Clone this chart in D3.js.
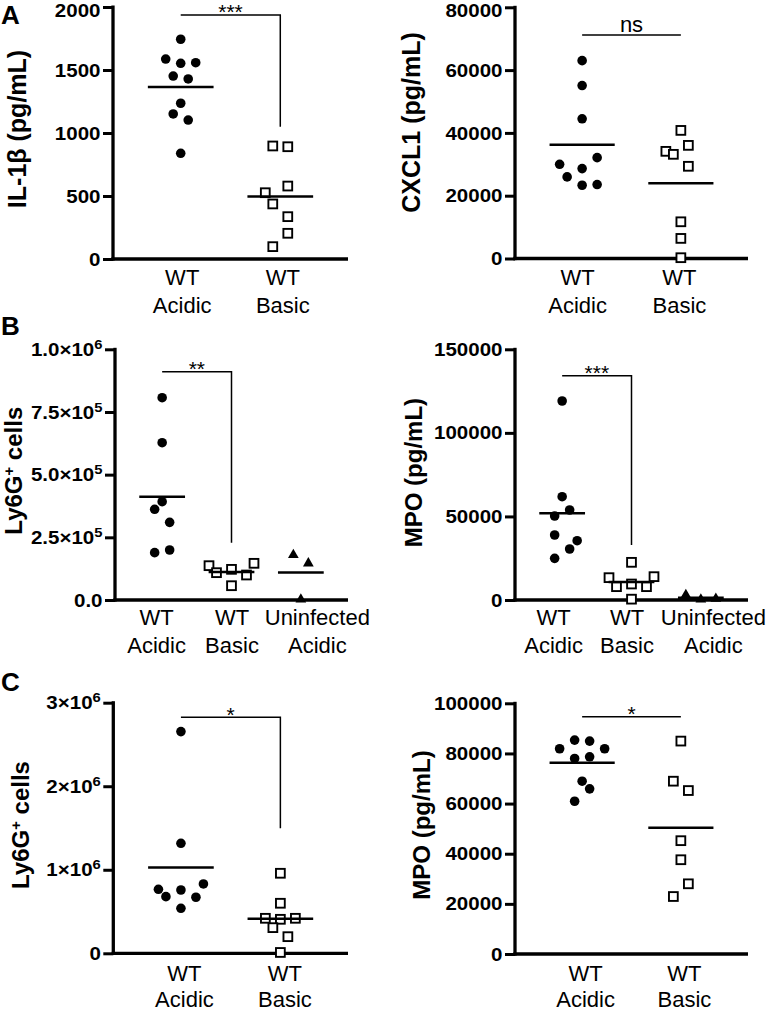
<!DOCTYPE html>
<html><head><meta charset="utf-8">
<script src="https://cdn.jsdelivr.net/npm/d3@7"></script>
<style>
body{margin:0;background:#fff}
svg{display:block}
text{font-family:"Liberation Sans",Arial,Helvetica,sans-serif;fill:#000}
</style>
</head><body>
<svg id="chart" width="771" height="1012"></svg>
<script>
// ---------------- DATA ----------------
const catsTwo = ["WT\nAcidic", "WT\nBasic"];
const catsThree = ["WT\nAcidic", "WT\nBasic", "Uninfected\nAcidic"];

// Panel A (left): IL-1β
const il1bAcidic = [1744, 1587, 1558, 1553, 1452, 1429, 1236, 1151, 1103, 839];
const il1bAcidicSlot = [0, -2, 2, 0, -1, 1, 0, -1, 1, 0];
const il1bBasic = [897, 891, 579, 526, 437, 336, 204, 98];
const il1bBasicSlot = [-1, 1, 1, -2, -1, 1, 1, -1];
const il1bTicks = [0, 500, 1000, 1500, 2000];
const il1bTickLabels = ["0", "500", "1000", "1500", "2000"];

// Panel A (right): CXCL1
const cxcl1Acidic = [63016, 55079, 44500, 32120, 30000, 28630, 25980, 23550, 23330];
const cxcl1AcidicSlot = [0, 0, 0, 2, -3, 0, -2, 2, 0];
const cxcl1Basic = [40794, 36030, 34127, 33175, 29365, 11690, 6400, 254];
const cxcl1BasicSlot = [0, 1, -2, -1, 1, 0, 0, 0];
const cxcl1Ticks = [0, 20000, 40000, 60000, 80000];
const cxcl1TickLabels = ["0", "20000", "40000", "60000", "80000"];

// Panel B (left): Ly6G+ cells
const ly6gBAcidic = [807000, 627500, 392200, 361700, 309800, 199400, 188800];
const ly6gBAcidicSlot = [0, 0, 0, -1, 1, 1, -1];
const ly6gBBasic = [146300, 136900, 122300, 109000, 99700, 57000];
const ly6gBBasicSlot = [3, -3, 0, -2, 2, 0];
const ly6gBUninf = [179500, 146300, 2000];
const ly6gBUninfSlot = [-1, 1, 0];
const ly6gBTicks = [0, 250000, 500000, 750000, 1000000];
const ly6gBTickLabels = ["0.0", "2.5×10^5", "5.0×10^5", "7.5×10^5", "1.0×10^6"];

// Panel B (right): MPO
const mpoBAcidic = [119070, 61810, 53850, 50260, 38890, 35490, 30510, 24930];
const mpoBAcidicSlot = [0, 0, 1, -1, -1, 2, 1, -1];
const mpoBBasic = [22540, 13960, 13360, 9570, 7980, 7980, 500];
const mpoBBasicSlot = [0, 3, -3, 0, -2, 2, 0];
const mpoBUninf = [3000, 300, 800];
const mpoBUninfSlot = [-2, 0, 2];
const mpoBTicks = [0, 50000, 100000, 150000];
const mpoBTickLabels = ["0", "50000", "100000", "150000"];

// Panel C (left): Ly6G+ cells
const ly6gCAcidic = [2654000, 1317000, 830000, 766000, 758000, 678000, 671000, 539000];
const ly6gCAcidicSlot = [0, 0, 3, -3, 0, -2, 2, 0];
const ly6gCBasic = [958000, 599000, 419000, 407000, 419000, 307000, 199000, 10000];
const ly6gCBasicSlot = [0, 0, -2, 0, 2, -1, 1, 0];
const ly6gCTicks = [0, 1000000, 2000000, 3000000];
const ly6gCTickLabels = ["0", "1×10^6", "2×10^6", "3×10^6"];

// Panel C (right): MPO
const mpoCAcidic = [85330, 84930, 81870, 81870, 78670, 78000, 68930, 65870, 60930];
const mpoCAcidicSlot = [-1, 1, -3, 3, 1, -1, 0, 1, -1];
const mpoCBasic = [84930, 68930, 65200, 45200, 37600, 28000, 22930];
const mpoCBasicSlot = [0, -1, 1, 0, 0, 1, -1];
const mpoCTicks = [0, 20000, 40000, 60000, 80000, 100000];
const mpoCTickLabels = ["0", "20000", "40000", "60000", "80000", "100000"];

// Significance brackets (y and drop in data units)
const sigA1 = {from: 0, to: 1, y: 1937, drop: 1050, label: "***"};
const sigA2 = {from: 0, to: 1, y: 71175, drop: null, label: "ns"};
const sigB1 = {from: 0, to: 1, y: 910700, drop: 228600, label: "**"};
const sigB2 = {from: 0, to: 1, y: 134200, drop: 32900, label: "***"};
const sigC1 = {from: 0, to: 1, y: 2826000, drop: 1497000, label: "*"};
const sigC2 = {from: 0, to: 1, y: 94680, drop: null, label: "*"};

// ---------------- LAYOUT ----------------
const svg = d3.select("#chart");
svg.append("rect").attr("width", 771).attr("height", 1012).attr("fill", "#fff");

const panels = [
  {left: 113, right: 348, top: 7, bottom: 259, max: 2000, ticks: il1bTicks, tickLabels: il1bTickLabels,
   ylabel: [["IL-1β (pg/mL)"]], ylx: 25.5, yly: 129, yls: 25, cats: catsTwo, labOff: [1, 2], labDy: 26, labGap: 28,
   series: [[il1bAcidic, il1bAcidicSlot, "circle"], [il1bBasic, il1bBasicSlot, "square"]], sig: sigA1},
  {left: 515, right: 748, top: 7.3, bottom: 258.5, max: 80000, ticks: cxcl1Ticks, tickLabels: cxcl1TickLabels,
   ylabel: [["CXCL1 (pg/mL)"]], ylx: 420, yly: 122.5, yls: 25, cats: catsTwo, labOff: [-5, -2], labDy: 26, labGap: 28,
   series: [[cxcl1Acidic, cxcl1AcidicSlot, "circle"], [cxcl1Basic, cxcl1BasicSlot, "square"]], sig: sigA2},
  {left: 115, right: 348, top: 349.3, bottom: 600, max: 1000000, ticks: ly6gBTicks, tickLabels: ly6gBTickLabels,
   ylabel: [["Ly6G"], ["+", "sup"], [" cells"]], ylx: 22, yly: 470.7, yls: 24, cats: catsThree, labOff: [-6, 0, 16], labDy: 25, labGap: 28,
   series: [[ly6gBAcidic, ly6gBAcidicSlot, "circle"], [ly6gBBasic, ly6gBBasicSlot, "square"], [ly6gBUninf, ly6gBUninfSlot, "triangle"]], sig: sigB1},
  {left: 515, right: 748, top: 349.3, bottom: 600, max: 150000, ticks: mpoBTicks, tickLabels: mpoBTickLabels,
   ylabel: [["MPO (pg/mL)"]], ylx: 422, yly: 472.6, yls: 24, cats: catsThree, labOff: [-9, -5, 12], labDy: 25, labGap: 28,
   series: [[mpoBAcidic, mpoBAcidicSlot, "circle"], [mpoBBasic, mpoBBasicSlot, "square"], [mpoBUninf, mpoBUninfSlot, "triangle"]], sig: sigB2},
  {left: 113.3, right: 348, top: 702.7, bottom: 953.3, max: 3000000, ticks: ly6gCTicks, tickLabels: ly6gCTickLabels,
   ylabel: [["Ly6G"], ["+", "sup"], [" cells"]], ylx: 28.5, yly: 825, yls: 24, cats: catsTwo, labOff: [3, 4], labDy: 27.5, labGap: 26,
   series: [[ly6gCAcidic, ly6gCAcidicSlot, "circle"], [ly6gCBasic, ly6gCBasicSlot, "square"]], sig: sigC1},
  {left: 515, right: 748, top: 703.3, bottom: 954, max: 100000, ticks: mpoCTicks, tickLabels: mpoCTickLabels,
   ylabel: [["MPO (pg/mL)"]], ylx: 430, yly: 825, yls: 24, cats: catsTwo, labOff: [3, 3], labDy: 27, labGap: 26,
   series: [[mpoCAcidic, mpoCAcidicSlot, "circle"], [mpoCBasic, mpoCBasicSlot, "square"]], sig: sigC2}
];

const panelLetters = [["A", 23.8], ["B", 335], ["C", 690.5]];
panelLetters.forEach(([t, y]) => {
  svg.append("text").attr("x", 1).attr("y", y).attr("font-size", 26).attr("font-weight", "bold").text(t);
});

const SLOT = 7.5;
const AXW = 3.3;
const TICKFS = 18;

panels.forEach(p => {
  const g = svg.append("g");
  const y = d3.scaleLinear().domain([0, p.max]).range([p.bottom, p.top]);
  const x = d3.scalePoint().domain(p.cats).range([p.left, p.right]).padding(0.68);

  // Y axis
  const yAxis = d3.axisLeft(y).tickValues(p.ticks).tickSize(10).tickSizeOuter(0).tickPadding(2)
    .tickFormat((d, i) => p.tickLabels[i]);
  const ya = g.append("g").attr("transform", `translate(${p.left},0)`).call(yAxis);
  ya.select(".domain").attr("stroke-width", AXW).attr("stroke", "#000")
    .attr("d", `M0,${p.bottom + AXW / 2}V${p.top - 1.5}`);
  ya.selectAll(".tick line").attr("stroke-width", 3).attr("stroke", "#000");
  ya.selectAll(".tick text").each(function (d, i) {
    const t = d3.select(this);
    const s = p.tickLabels[i];
    // keep the label baseline inside the figure (the top label sits just below the frame edge)
    const base = Math.max(0.34 * TICKFS, 16.6 - y(d));
    t.text(null).attr("font-size", TICKFS).attr("font-weight", "bold").attr("font-family", null)
      .attr("x", -12.5 / 1.14).attr("transform", "scale(1.14,1)").attr("dy", base);
    const parts = s.split("^");
    t.append("tspan").text(parts[0]);
    if (parts[1]) t.append("tspan").attr("dy", -7).attr("font-size", 13).text(parts[1]);
  });
  ya.attr("font-family", null).attr("font-size", null);

  // X axis
  const xAxis = d3.axisBottom(x).tickSize(0).tickSizeOuter(0).tickPadding(0);
  const xa = g.append("g").attr("transform", `translate(0,${p.bottom})`).call(xAxis);
  xa.attr("font-family", null).attr("font-size", null);
  xa.select(".domain").attr("stroke-width", AXW).attr("stroke", "#000")
    .attr("d", `M${p.left - AXW / 2},0H${p.right}`);
  xa.selectAll(".tick text").each(function (d, i) {
    const t = d3.select(this);
    const lines = d.split("\n");
    t.text(null).attr("font-size", 22).attr("y", 0).attr("dy", null)
      .attr("transform", `translate(${p.labOff[i]},0)`);
    lines.forEach((ln, k) => {
      t.append("tspan").attr("x", 0).attr("y", p.labDy + k * p.labGap).text(ln);
    });
  });

  // Points
  p.series.forEach(([vals, slots, shape], si) => {
    const cx = i => x(p.cats[si]) + slots[i] * SLOT;
    if (shape === "circle") {
      g.append("g").selectAll("circle").data(vals).join("circle")
        .attr("cx", (d, i) => cx(i)).attr("cy", d => y(d)).attr("r", 4.8).attr("fill", "#000");
    } else if (shape === "square") {
      g.append("g").selectAll("rect").data(vals).join("rect")
        .attr("x", (d, i) => cx(i) - 4.4).attr("y", d => y(d) - 4.4)
        .attr("width", 8.8).attr("height", 8.8)
        .attr("fill", "#fff").attr("stroke", "#000").attr("stroke-width", 1.9);
    } else {
      const tri = d3.symbol(d3.symbolTriangle, 50);
      g.append("g").selectAll("path").data(vals).join("path")
        .attr("d", tri).attr("transform", (d, i) => `translate(${cx(i)},${y(d)})`).attr("fill", "#000");
    }
    // mean line
    const m = d3.mean(vals);
    const hw = x.step() * 0.33;
    g.append("line").attr("x1", x(p.cats[si]) - hw).attr("x2", x(p.cats[si]) + hw)
      .attr("y1", y(m)).attr("y2", y(m)).attr("stroke", "#000").attr("stroke-width", 2.5);
  });

  // significance bracket
  const s = p.sig;
  const x1 = x(p.cats[s.from]), x2 = x(p.cats[s.to]);
  let d = `M${x1},${y(s.y)}H${x2}`;
  if (s.drop !== null) d += `V${y(s.drop)}`;
  g.append("path").attr("d", d).attr("fill", "none").attr("stroke", "#000").attr("stroke-width", 1.5);
  const isNs = s.label === "ns";
  g.append("text").attr("x", (x1 + x2) / 2).attr("y", y(s.y) + (isNs ? -3 : 4.5))
    .attr("text-anchor", "middle").attr("font-size", isNs ? 22 : 21).text(s.label);

  // y label
  const yl = g.append("text").attr("transform", `translate(${p.ylx},${p.yly}) rotate(-90)`)
    .attr("text-anchor", "middle").attr("font-size", p.yls).attr("font-weight", "bold");
  p.ylabel.forEach(([txt, kind]) => {
    if (kind === "sup") {
      yl.append("tspan").attr("dy", -8).attr("font-size", p.yls * 0.62).text(txt);
    } else {
      const ts = yl.append("tspan").text(txt);
      if (yl.selectAll("tspan").size() > 1) ts.attr("dy", 8);
    }
  });
});
</script>
</body></html>
